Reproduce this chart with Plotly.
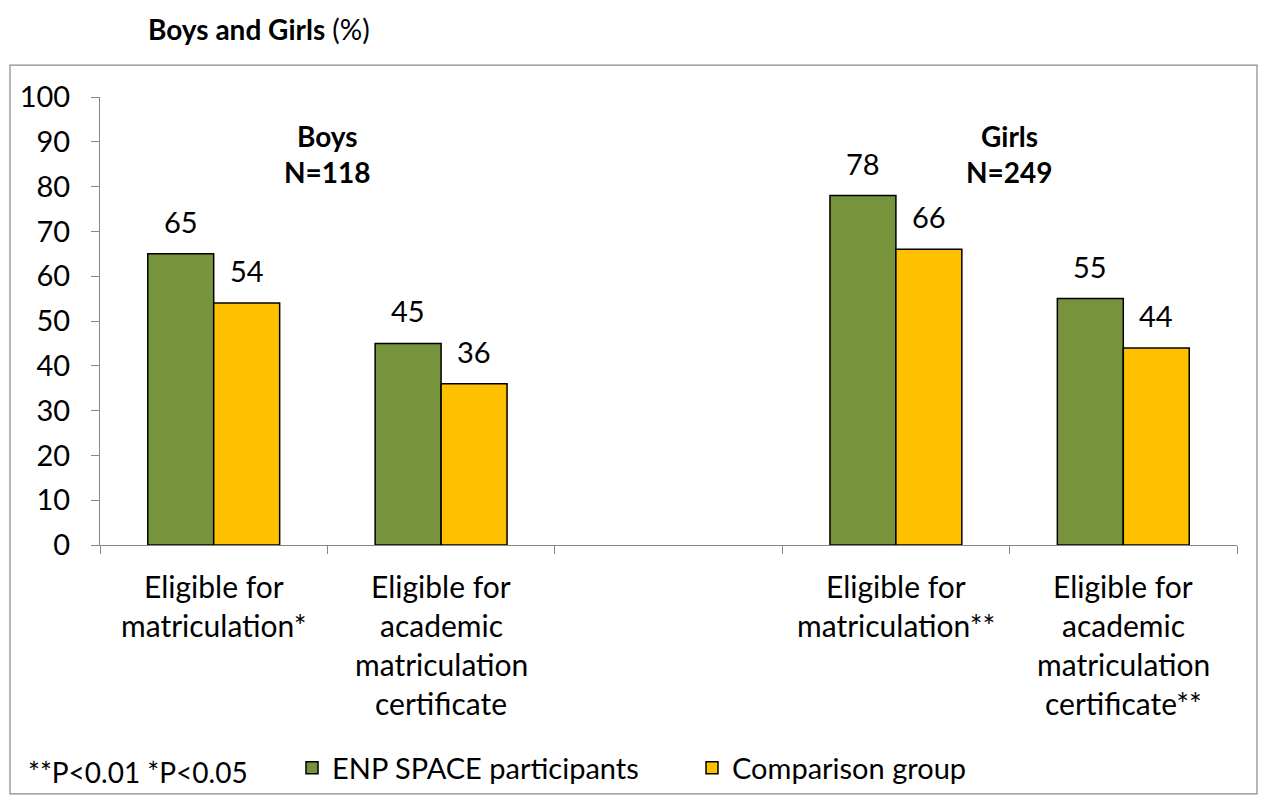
import plotly.graph_objects as go

# Chart data
categories = [
    ["Eligible for", "matriculation*"],
    ["Eligible for", "academic", "matriculation", "certificate"],
    [],
    ["Eligible for", "matriculation**"],
    ["Eligible for", "academic", "matriculation", "certificate**"],
]
enp_values = [65, 45, None, 78, 55]
comparison_values = [54, 36, None, 66, 44]
series_names = ["ENP SPACE participants", "Comparison group"]
group_labels = [("Boys", "N=118", 0.5), ("Girls", "N=249", 3.5)]
y_ticks = list(range(0, 101, 10))

GREEN = "#77933C"
YELLOW = "#FFC000"
AXIS = "#868686"
FONT = "Lato"
TXT = "#000000"
FS = 29

x_pos = list(range(len(categories)))
bargap = 0.42
bar_w = (1 - bargap) / 2

fig = go.Figure()
for name, vals, color in [(series_names[0], enp_values, GREEN),
                          (series_names[1], comparison_values, YELLOW)]:
    fig.add_trace(go.Bar(
        x=x_pos, y=vals, name=name,
        marker=dict(color=color, line=dict(color="#000000", width=1.5)),
    ))

# Value labels above bars
for vals, off in [(enp_values, -bar_w / 2), (comparison_values, bar_w / 2)]:
    for i, v in enumerate(vals):
        if v is None:
            continue
        fig.add_annotation(x=i + off, y=v, xref="x", yref="y", text=str(v),
                           showarrow=False, yanchor="bottom", yshift=13,
                           font=dict(family=FONT, size=FS, color=TXT))

# Category labels, one line per annotation for wider line spacing
for i, lines in enumerate(categories):
    for k, line in enumerate(lines):
        fig.add_annotation(x=i, y=0, xref="x", yref="paper", text=line,
                           showarrow=False, yanchor="middle",
                           yshift=-(41 + 39 * k),
                           font=dict(family=FONT, size=FS + 1, color=TXT))

# Group headings
for title, n, xc in group_labels:
    for k, line in enumerate([title, n]):
        fig.add_annotation(x=xc, y=1, xref="x", yref="paper",
                           text=f"<b>{line}</b>", showarrow=False,
                           yanchor="middle", yshift=-(39 + 36 * k),
                           font=dict(family=FONT, size=FS - 1, color=TXT))

# Chart title and significance note
fig.add_annotation(x=(146 - 100) / 1137, y=(547 - 29) / 450, xref="paper", yref="paper",
                   text="<b>Boys and Girls</b> (%)", showarrow=False,
                   xanchor="left", yanchor="middle",
                   font=dict(family=FONT, size=FS - 1, color=TXT))
fig.add_annotation(x=(26 - 100) / 1137, y=(547 - 775) / 450, xref="paper", yref="paper",
                   text="**P<0.01 *P<0.05", showarrow=False,
                   xanchor="left", yanchor="middle",
                   font=dict(family=FONT, size=FS - 1, color=TXT))

# Outer frame
fig.add_shape(type="rect", xref="paper", yref="paper",
              x0=(10 - 100) / 1137, x1=(1257 - 100) / 1137,
              y0=(547 - 797) / 450, y1=(547 - 65) / 450,
              line=dict(color="#898989", width=1.2), fillcolor="rgba(0,0,0,0)")

fig.update_layout(
    width=1265, height=805,
    margin=dict(l=100, r=28, t=97, b=258),
    paper_bgcolor="white", plot_bgcolor="white",
    barmode="group", bargap=bargap, bargroupgap=0,
    font=dict(family=FONT, size=FS, color=TXT),
    showlegend=True,
    legend=dict(orientation="h", x=(292 - 100) / 1137, y=(547 - 771) / 450,
                xanchor="left", yanchor="middle",
                font=dict(family=FONT, size=FS, color=TXT),
                itemwidth=30, entrywidth=355, entrywidthmode="pixels",
                tracegroupgap=0, bgcolor="rgba(0,0,0,0)"),
    xaxis=dict(range=[-0.5, len(categories) - 0.5],
               tickvals=[i - 0.5 for i in range(len(categories) + 1)],
               ticktext=[""] * (len(categories) + 1),
               ticks="outside", ticklen=8, tickcolor=AXIS, tickwidth=1,
               showline=True, linecolor=AXIS, linewidth=1,
               showgrid=False, zeroline=False, fixedrange=True),
    yaxis=dict(range=[0, 100], tickvals=y_ticks,
               ticks="outside", ticklen=8, tickcolor=AXIS, tickwidth=1,
               showline=True, linecolor=AXIS, linewidth=1,
               showgrid=False, zeroline=False, ticklabelstandoff=15,
               tickfont=dict(family=FONT, size=FS, color=TXT)),
)

fig.write_html("out.html")
